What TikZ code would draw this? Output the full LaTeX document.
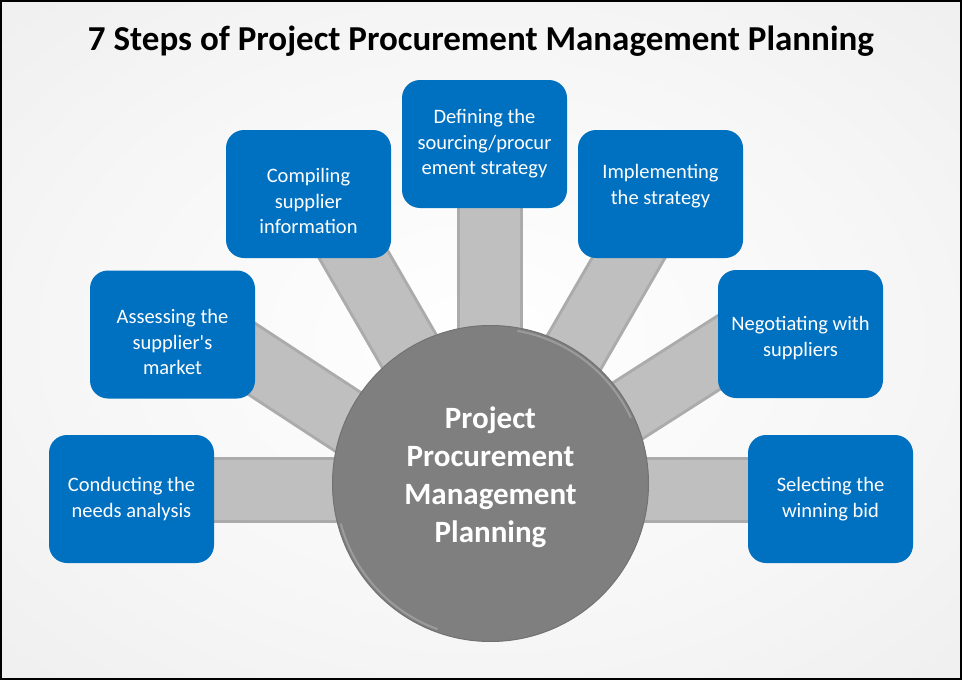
\documentclass[tikz,border=0pt]{standalone}
\usepackage{fontspec}
\setmainfont{Carlito}
\usetikzlibrary{calc}
\definecolor{boxblue}{HTML}{0070C0}
\definecolor{spokefill}{HTML}{BFBFBF}
\definecolor{spokeedge}{HTML}{ABABAB}
\definecolor{hubgray}{HTML}{7F7F7F}
\definecolor{hubline}{HTML}{727272}
\definecolor{bgc0}{HTML}{FFFFFF}
\definecolor{bgc1}{HTML}{F6F6F6}
\definecolor{bgc2}{HTML}{E8E8E8}
\definecolor{bgc3}{HTML}{D6D6D6}
\pgfdeclareradialshading{bgshade}{\pgfpoint{0bp}{0bp}}{color(0bp)=(bgc0); color(22bp)=(bgc1); color(50bp)=(bgc2); color(71bp)=(bgc3)}
\begin{document}
\begin{tikzpicture}[x=1pt,y=-1pt,
  stepbox/.style={fill=boxblue, rounded corners=18pt, minimum width=165pt, minimum height=128pt,
    inner sep=0pt, text=white, align=center, font=\fontsize{20.5}{25.5}\selectfont},
  boxtext/.style={text=white, align=center, font=\fontsize{20.5}{25.5}\selectfont, inner sep=0pt},
  hubnode/.style={circle, fill=hubgray, draw=hubline, line width=1pt, minimum size=316pt, inner sep=0pt},
  hubtext/.style={text=white, align=center, font=\fontsize{31}{38}\selectfont\bfseries},
  hubrim/.style={white, opacity=0.22, line width=2pt},
  spokeouter/.style={draw=spokeedge, line width=66pt},
  spokeinner/.style={draw=spokefill, line width=60pt},
  titlestyle/.style={font=\fontsize{35}{40}\selectfont\bfseries, text=black, inner sep=0pt}
]
% background
\useasboundingbox (0,0) rectangle (962,680);
\shade[shading=bgshade] (0,0) rectangle (962,680);
\draw[black, line width=2pt] (1,1) rectangle (961,679);

% spoke end points
\coordinate (s1a) at (140,490);  \coordinate (s1b) at (490,490);
\coordinate (s7a) at (490,490);  \coordinate (s7b) at (830,490);
\coordinate (s4a) at (489.5,150); \coordinate (s4b) at (489.5,484);
\coordinate (s3a) at (322,200);  \coordinate (s3b) at (486,484);
\coordinate (s5a) at (662,200);  \coordinate (s5b) at (498,484);
\coordinate (s2a) at (190,318.5); \coordinate (s2b) at (470,501.6);
\coordinate (s6a) at (790,307);  \coordinate (s6b) at (510,486);

\foreach \s in {1,2,3,4,5,6,7}{
  \draw[spokeouter] (s\s a) -- (s\s b);
}
\foreach \s in {1,2,3,4,5,6,7}{
  \draw[spokeinner] (s\s a) -- (s\s b);
}

% hub
\node[hubnode] (hub) at (490.5,483.5) {};
\draw[hubrim] ($(hub.center)+(25:155pt)$) arc[start angle=25, end angle=80, radius=155pt];
\draw[hubrim] ($(hub.center)+(195:155pt)$) arc[start angle=195, end angle=250, radius=155pt];
\node[hubtext] (hubtxt) at (490.5,477.5) {Project\\Procurement\\Management\\Planning};

% title
\node[titlestyle, anchor=base] (title) at (481,50) {7 Steps of Project Procurement Management Planning};

% boxes
\node[stepbox] (b1) at (131.5,499) {Conducting the\\needs analysis};
\node[stepbox] (b2) at (172.5,334.5) {};
\node[boxtext] (t2) at (172.5,342) {Assessing the\\supplier\textquotesingle s\\market};
\node[stepbox] (b3) at (308.5,194) {};
\node[boxtext] (t3) at (308.5,201) {Compiling\\supplier\\information};
\node[stepbox] (b4) at (484.5,144) {Defining the\\sourcing/procur\\ement strategy};
\node[stepbox] (b5) at (660.5,194) {};
\node[boxtext] (t5) at (660.5,186) {Implementing\\the strategy};
\node[stepbox] (b6) at (800.5,334) {};
\node[boxtext] (t6) at (800.5,338) {Negotiating with\\suppliers};
\node[stepbox] (b7) at (830.5,499) {Selecting the\\winning bid};
\end{tikzpicture}
\end{document}
